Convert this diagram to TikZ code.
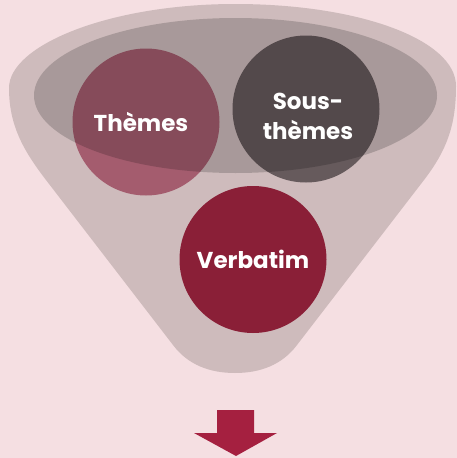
\documentclass[tikz,border=0pt]{standalone}
\usepackage{fontspec}
\setmainfont{Poppins}
\usetikzlibrary{positioning}
\definecolor{fbg}{HTML}{F5DFE2}
\definecolor{ffunnel}{HTML}{CEBBBC}
\definecolor{fthemes}{HTML}{A45C6E}
\definecolor{fsous}{HTML}{665A5C}
\definecolor{fverb}{HTML}{8A1F37}
\definecolor{farrow}{HTML}{A52040}

\begin{document}
\begin{tikzpicture}[x=1pt, y=-1pt,
    every node/.style={font=\bfseries\fontsize{23}{30}\selectfont, text=white, align=center},
    bubble/.style={circle, inner sep=0pt, minimum size=147pt}]
  % background
  \fill[fbg] (0,0) rectangle (457,458);
  \useasboundingbox (0,0) rectangle (457,458);
  % funnel body
  \fill[ffunnel] (235,4) .. controls (360,4) and (456,40) .. (456,86)
    .. controls (456,125) and (447,150) .. (424,180) -- (297,345)
    .. controls (282,365) and (260,373) .. (235,373)
    .. controls (210,373) and (188,365) .. (173,345) -- (46,180)
    .. controls (23,150) and (9,125) .. (9,88)
    .. controls (9,45) and (110,4) .. (235,4) -- cycle;
  % bubbles
  \node[bubble, fill=fthemes] (themes) at (146,122) {};
  \node[bubble, fill=fsous] (sous) at (306,109) {};
  \node[bubble, fill=fverb] (verbatim) at (253,259.5) {};
  % funnel mouth, shades what lies under it
  \fill[black, fill opacity=0.18] (235.5,95.5) ellipse [x radius=201.5, y radius=77.5];
  % labels
  \node (themeslab) at ([xshift=-5pt]themes.center) {Thèmes};
  \node (souslab) at ([xshift=2pt, yshift=-7pt]sous.center) {Sous-\\thèmes};
  \node (verblab) at (verbatim.center) {Verbatim};
  % arrow out of the funnel
  \fill[farrow] (217,410) -- (254,410) -- (254,433) -- (277,433)
    -- (236,456) -- (194,433) -- (217,433) -- cycle;
\end{tikzpicture}
\end{document}
